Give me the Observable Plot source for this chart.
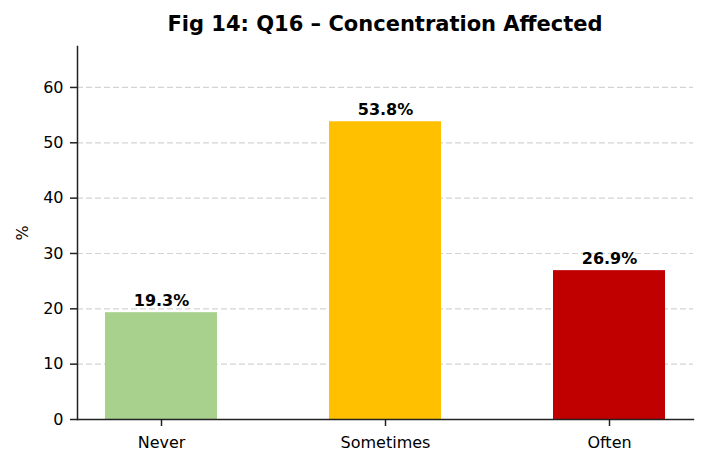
<!DOCTYPE html>
<html>
<head>
<meta charset="utf-8">
<script src="https://cdn.jsdelivr.net/npm/d3@7"></script>
<script src="https://cdn.jsdelivr.net/npm/@observablehq/plot@0.6"></script>
<style>
  html, body { margin: 0; padding: 0; background: #fff; }
  #title { height: 36px; width: 707px; text-align: center; font-family: "DejaVu Sans", sans-serif; font-weight: bold; font-size: 21px; line-height: 21px; box-sizing: border-box; overflow: visible; white-space: nowrap; }
  #title span { display: inline-block; margin-top: 14px; margin-left: 63px; }
</style>
</head>
<body>
<div id="title"><span>Fig 14: Q16 – Concentration Affected</span></div>
<div id="chart"></div>
<script>
const categories = ["Never", "Sometimes", "Often"];
const values = [19.3, 53.8, 26.9];
const colors = ["#a9d18e", "#ffc000", "#c00000"];
const yTicks = [0, 10, 20, 30, 40, 50, 60];

const data = categories.map((c, i) => ({category: c, value: values[i], color: colors[i]}));

const chart = Plot.plot({
  width: 707,
  height: 431,
  marginLeft: 77,
  marginRight: 14,
  marginTop: 10,
  marginBottom: 48,
  style: {fontFamily: "DejaVu Sans, sans-serif", fontSize: "16px", color: "#000", background: "#fff"},
  x: {domain: categories, paddingInner: 0.5, paddingOuter: 0.125, label: null},
  y: {domain: [0, 67.4], label: null},
  marks: [
    Plot.gridY(yTicks.filter(d => d > 0), {stroke: "#d3d3d3", strokeOpacity: 1, strokeDasharray: "6,3", strokeWidth: 1.2}),
    Plot.barY(data, {x: "category", y: "value", fill: "color"}),
    Plot.text(data, {x: "category", y: "value", text: d => d.value.toFixed(1) + "%", dy: -7, lineAnchor: "bottom", fontWeight: "bold", fontSize: 16, fill: "#000"}),
    Plot.frame({anchor: "left", stroke: "#222", strokeWidth: 1.5}),
    Plot.frame({anchor: "bottom", stroke: "#222", strokeWidth: 1.5}),
    Plot.axisY({ticks: yTicks, tickSize: 7, tickPadding: 7, fontSize: 16, stroke: "#222", strokeWidth: 1.5, label: null}),
    Plot.axisX({tickSize: 7, tickPadding: 10, fontSize: 16, stroke: "#222", strokeWidth: 1.5, label: null}),
    Plot.text(["%"], {frameAnchor: "left", textAnchor: "middle", dx: -55, rotate: -90, fontSize: 16, fill: "#000"})
  ]
});
document.getElementById("chart").appendChild(chart);
</script>
</body>
</html>
